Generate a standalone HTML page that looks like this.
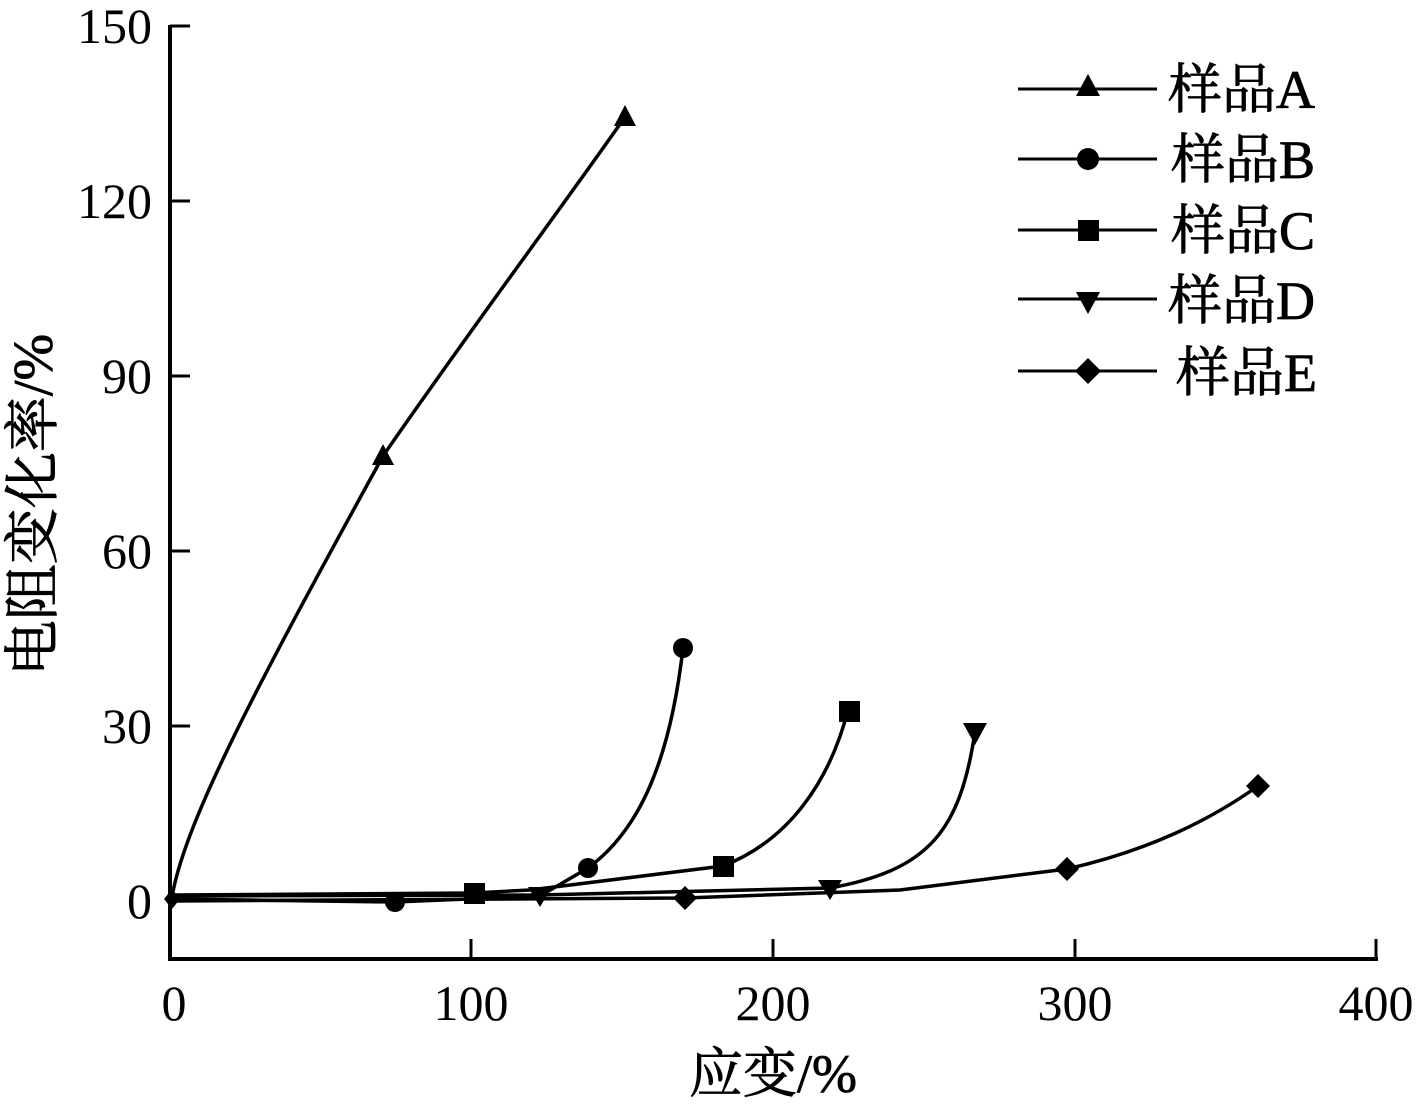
<!DOCTYPE html>
<html><head><meta charset="utf-8"><style>
html,body{margin:0;padding:0;background:#fff;}
svg text{font-family:"Liberation Serif","Noto Serif CJK SC",serif;fill:#000;}
</style></head><body>
<svg width="1424" height="1105" viewBox="0 0 1424 1105" xmlns="http://www.w3.org/2000/svg">
<g stroke="#000" stroke-width="4" fill="none">
<polyline points="170,25 170,959 1378,959"/>
</g>
<g stroke="#000" stroke-width="3">
<line x1="170" y1="26" x2="190" y2="26"/>
<line x1="170" y1="201" x2="190" y2="201"/>
<line x1="170" y1="376" x2="190" y2="376"/>
<line x1="170" y1="551" x2="190" y2="551"/>
<line x1="170" y1="726" x2="190" y2="726"/>
<line x1="170" y1="901" x2="190" y2="901"/>
<line x1="471" y1="959" x2="471" y2="939"/>
<line x1="773" y1="959" x2="773" y2="939"/>
<line x1="1075" y1="959" x2="1075" y2="939"/>
<line x1="1376" y1="959" x2="1376" y2="939"/>
</g>
<g font-size="50" text-anchor="end">
<text x="152" y="43">150</text>
<text x="152" y="218">120</text>
<text x="152" y="393">90</text>
<text x="152" y="568">60</text>
<text x="152" y="743">30</text>
<text x="152" y="918">0</text>
</g>
<g font-size="50" text-anchor="middle">
<text x="174" y="1020">0</text>
<text x="471" y="1020">100</text>
<text x="773" y="1020">200</text>
<text x="1075" y="1020">300</text>
<text x="1376" y="1020">400</text>
</g>
<text x="773" y="1092" font-size="54" text-anchor="middle" stroke="#000" stroke-width="0.8">应变/%</text>
<text transform="translate(52,505) rotate(-90)" font-size="56" text-anchor="middle" stroke="#000" stroke-width="0.8">电阻变化率/%</text>

<g stroke="#000" stroke-width="3.5" fill="none">
<path d="M172,897 C185,820 260,680 383,456 C470,330 560,210 625,117"/>
<path d="M172,899 L395,902 L540,896 L588,868 C640,830 670,760 683,648"/>
<path d="M172,895 L474,893 L530,890 L723,866 C790,840 830,780 848,710"/>
<path d="M172,896 L540,895 L830,888 C930,870 960,830 975,732"/>
<path d="M172,901 L685,898 L900,890 L1067,869 C1150,850 1210,820 1258,786"/>
</g>
<g fill="#000">
<polygon points="383,444 372,465 394,465"/>
<polygon points="625,105 614,126 636,126"/>
<circle cx="395" cy="902" r="10"/>
<circle cx="588" cy="868" r="10"/>
<circle cx="683" cy="648" r="10"/>
<rect x="464" y="883" width="21" height="21"/>
<rect x="713" y="856" width="21" height="21"/>
<rect x="839" y="701" width="21" height="21"/>
<polygon points="528,887 552,887 540,907"/>
<polygon points="818,880 842,880 830,900"/>
<polygon points="963,723 987,723 975,745"/>
<polygon points="685,886 697,898 685,910 673,898"/>
<polygon points="1067,857 1079,869 1067,881 1055,869"/>
<polygon points="1258,774 1270,786 1258,798 1246,786"/>
<polygon points="172,889 180,899 172,909 164,899"/>
</g>

<g stroke="#000" stroke-width="3">
<line x1="1018" y1="89" x2="1157" y2="89"/>
<line x1="1018" y1="159" x2="1157" y2="159"/>
<line x1="1018" y1="230" x2="1157" y2="230"/>
<line x1="1018" y1="299" x2="1157" y2="299"/>
<line x1="1018" y1="371" x2="1157" y2="371"/>
</g>
<g fill="#000">
<polygon points="1088,74 1076,96 1100,96"/>
<circle cx="1088" cy="159" r="11"/>
<rect x="1078" y="220" width="21" height="21"/>
<polygon points="1076,292 1100,292 1088,314"/>
<polygon points="1088,358 1101,371 1088,384 1075,371"/>
</g>
<g font-size="54" stroke="#000" stroke-width="0.8">
<text x="1168" y="108">样品A</text>
<text x="1171" y="178">样品B</text>
<text x="1171" y="249">样品C</text>
<text x="1168" y="319">样品D</text>
<text x="1176" y="391">样品E</text>
</g>
</svg>
</body></html>
